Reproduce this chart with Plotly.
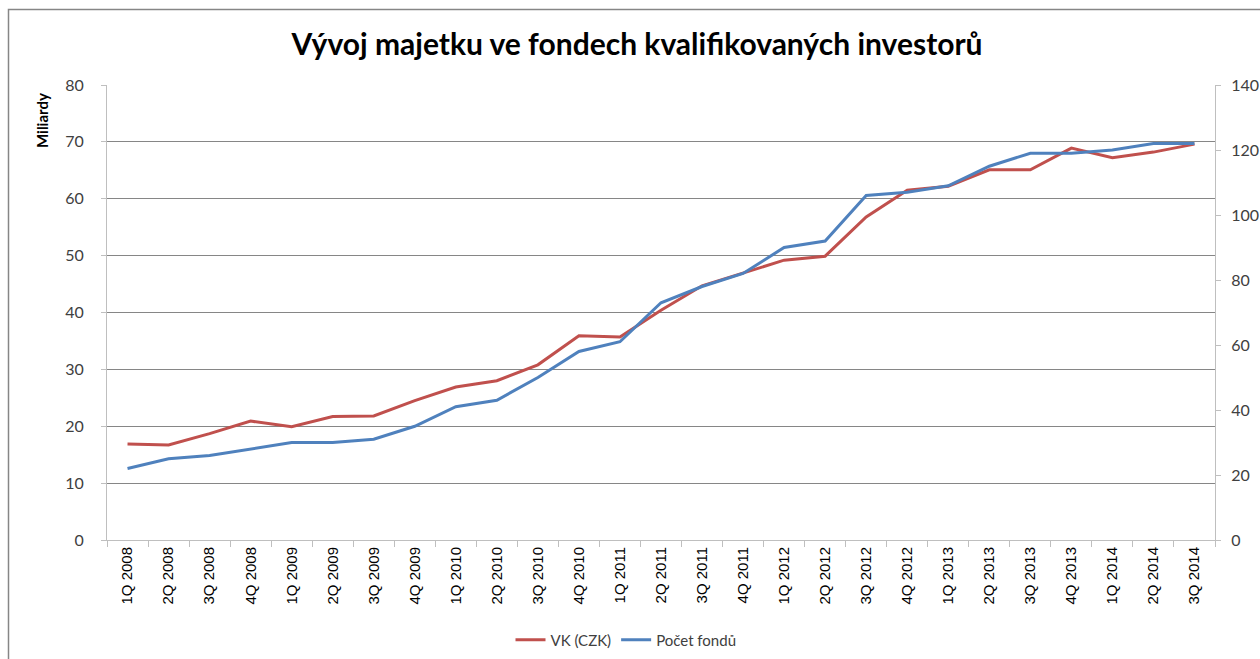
import plotly.graph_objects as go

categories = ["1Q 2008", "2Q 2008", "3Q 2008", "4Q 2008", "1Q 2009", "2Q 2009", "3Q 2009", "4Q 2009",
              "1Q 2010", "2Q 2010", "3Q 2010", "4Q 2010", "1Q 2011", "2Q 2011", "3Q 2011", "4Q 2011",
              "1Q 2012", "2Q 2012", "3Q 2012", "4Q 2012", "1Q 2013", "2Q 2013", "3Q 2013", "4Q 2013",
              "1Q 2014", "2Q 2014", "3Q 2014"]
vk_czk = [16.9, 16.7, 18.7, 20.9, 19.9, 21.7, 21.8, 24.5, 26.9, 28.0, 30.8, 35.9, 35.7, 40.4, 44.7, 46.9,
          49.2, 49.9, 56.8, 61.5, 62.2, 65.1, 65.1, 68.9, 67.2, 68.2, 69.6]
pocet_fondu = [22, 25, 26, 28, 30, 30, 31, 35, 41, 43, 50, 58, 61, 73, 78, 82,
               90, 92, 106, 107, 109, 115, 119, 119, 120, 122, 122]

RED = "#C0504D"
BLUE = "#4F81BD"
GRID = "#868686"
AXIS = "#BFBFBF"
TEXT = "#404040"

W, H = 1260, 659
# plot area in screen pixels
X0, X1, Y0, Y1 = 107, 1215, 85, 540
L, R, T, B = X0, W - X1, Y0, H - Y1
pw, ph = W - L - R, H - T - B

def px_x(px):
    return (px - L) / pw

def px_y(py):
    return (H - B - py) / ph

fig = go.Figure()
fig.add_trace(go.Scatter(x=categories, y=vk_czk, name="VK (CZK)", mode="lines",
                         line=dict(color=RED, width=3), yaxis="y"))
fig.add_trace(go.Scatter(x=categories, y=pocet_fondu, name="Počet fondů", mode="lines",
                         line=dict(color=BLUE, width=3), yaxis="y2"))

fig.update_layout(
    width=W, height=H,
    margin=dict(l=L, r=R, t=T, b=B, autoexpand=False),
    paper_bgcolor="white", plot_bgcolor="white",
    title=dict(text="<b>Vývoj majetku ve fondech kvalifikovaných investorů</b>",
               x=637 / W, xanchor="center", y=1 - 44 / H, yanchor="middle",
               font=dict(family="Lato, Open Sans, sans-serif", size=30, color="black")),
    xaxis=dict(type="category", range=[-0.5, 26.5], tickangle=-90, tickson="boundaries",
               ticks="outside", ticklen=6, tickcolor=AXIS, showline=True, linecolor=AXIS,
               linewidth=1, showgrid=False, zeroline=False,
               tickfont=dict(family="Liberation Sans, Arial, sans-serif", size=15, color="black")),
    yaxis=dict(range=[0, 80], dtick=10, showgrid=True, gridcolor=GRID, gridwidth=1,
               ticks="outside", ticklen=5, tickcolor=AXIS, showline=True, linecolor=AXIS,
               zeroline=False, ticklabelstandoff=14,
               tickfont=dict(family="Lato, sans-serif", size=16, color=TEXT)),
    yaxis2=dict(range=[0, 140], dtick=20, overlaying="y", side="right", showgrid=False,
                ticks="outside", ticklen=5, tickcolor=AXIS, showline=True, linecolor=AXIS,
                zeroline=False, ticklabelstandoff=7,
                tickfont=dict(family="Lato, sans-serif", size=16, color=TEXT)),
    legend=dict(orientation="h", x=px_x(626), xanchor="center", y=px_y(640), yanchor="middle",
                font=dict(family="Lato, sans-serif", size=15, color=TEXT),
                itemwidth=30, tracegroupgap=0),
    showlegend=True,
    annotations=[dict(text="<b>Miliardy</b>", textangle=-90, xref="paper", yref="paper",
                      x=px_x(42), y=px_y(121), xanchor="center", yanchor="middle", showarrow=False,
                      font=dict(family="Lato, sans-serif", size=15, color="black"))],
    shapes=[dict(type="rect", xref="paper", yref="paper", x0=px_x(8.5), x1=px_x(1270),
                 y0=px_y(670), y1=px_y(9.5), line=dict(color="#868686", width=1.5),
                 fillcolor="rgba(0,0,0,0)", layer="below")],
)

fig.write_html("out.html", config={"displayModeBar": False},
               post_script="document.body.style.margin='0px';document.body.style.overflow='hidden';")
